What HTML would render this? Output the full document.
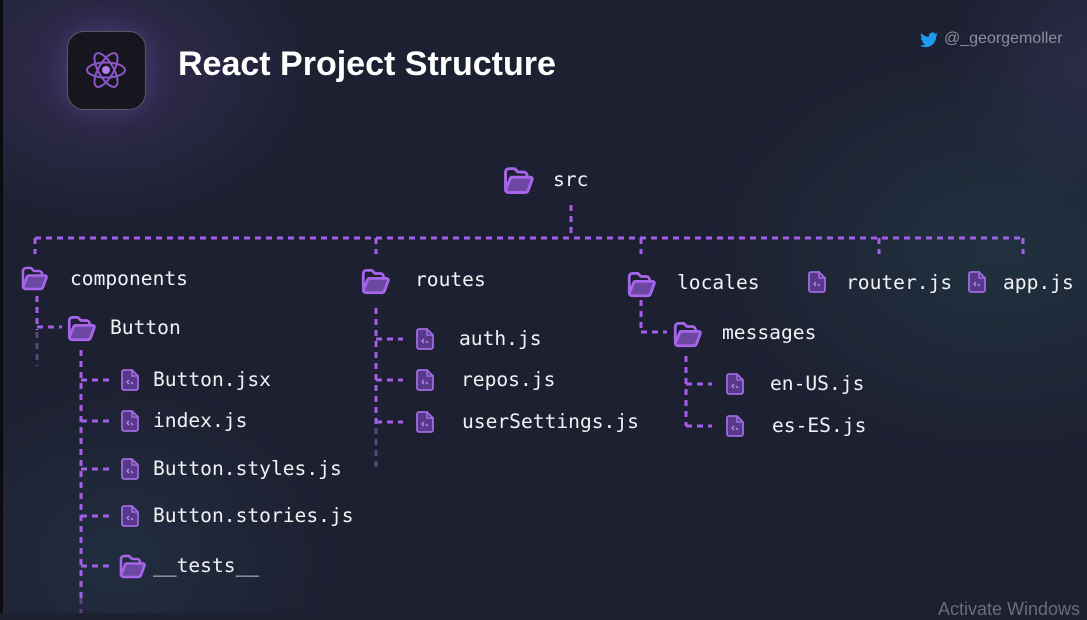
<!DOCTYPE html>
<html><head><meta charset="utf-8"><style>
html,body{margin:0;padding:0}
body{width:1087px;height:613px;overflow:hidden;position:relative;background:#1d2031;font-family:"DejaVu Sans Mono","Liberation Mono",monospace}
.bg{position:absolute;inset:0;background:
radial-gradient(ellipse 300px 220px at 105px 70px,rgba(110,80,170,.28),transparent 70%),
radial-gradient(ellipse 420px 300px at 1000px 250px,rgba(40,80,90,.35),transparent 70%),
radial-gradient(ellipse 300px 260px at 120px 560px,rgba(40,70,90,.35),transparent 70%),
radial-gradient(ellipse 200px 200px at 1087px 60px,rgba(70,60,110,.35),transparent 70%);}
.t{position:absolute;color:#f2f2f5;font-size:19.6px;line-height:24px;white-space:nowrap}
</style></head><body>
<div class="bg"></div>
<div style="position:absolute;left:0;top:0;width:3px;height:613px;background:#0c0c10"></div>
<div style="position:absolute;left:67px;top:31px;width:77px;height:77px;border-radius:17px;background:#17161f;border:1px solid #5a5868;box-shadow:0 0 30px rgba(130,90,200,.35)"></div>
<svg style="position:absolute;left:67px;top:31px" width="78" height="78" viewBox="0 0 78 78">
<g fill="none" stroke="#8a55c8" stroke-width="2">
<ellipse cx="39" cy="39" rx="19" ry="7.5"/>
<ellipse cx="39" cy="39" rx="19" ry="7.5" transform="rotate(60 39 39)"/>
<ellipse cx="39" cy="39" rx="19" ry="7.5" transform="rotate(-60 39 39)"/>
</g><circle cx="39" cy="39" r="4" fill="#b27cf0"/></svg>
<div style="position:absolute;left:178px;top:45px;font:bold 34px 'Liberation Sans',sans-serif;color:#fff">React Project Structure</div>
<svg style="position:absolute;left:920px;top:32px" width="18" height="16" viewBox="0 0 24 20"><path fill="#1d9bf0" d="M24 2.4a9.8 9.8 0 0 1-2.8.8A4.9 4.9 0 0 0 23.3.4a9.9 9.9 0 0 1-3.1 1.2A4.9 4.9 0 0 0 11.8 6 14 14 0 0 1 1.7.9a4.9 4.9 0 0 0 1.5 6.6A4.9 4.9 0 0 1 1 6.900a4.9 4.9 0 0 0 3.9 4.9 4.9 4.9 0 0 1-2.2.1 4.9 4.9 0 0 0 4.6 3.4A9.9 9.9 0 0 1 0 17.3 14 14 0 0 0 7.5 19.5c9.1 0 14-7.5 14-14v-.6A10 10 0 0 0 24 2.4z"/></svg>
<div style="position:absolute;left:944px;top:30px;font:16px 'Liberation Sans',sans-serif;color:#8b90a0">@_georgemoller</div>
<div style="position:absolute;left:938px;top:599px;font:18px 'Liberation Sans',sans-serif;color:#6a6d78">Activate Windows</div>

<svg style="position:absolute;left:0;top:0" width="1087" height="613">
<defs>
<symbol id="fo" viewBox="0 0 30 30">
<path d="M4 23V8a3 3 0 0 1 3-3h5l3 3h5a3 3 0 0 1 3 3v2" fill="none" stroke="#a765ec" stroke-width="2.6" stroke-linejoin="round"/>
<path d="M4 24l4-10a2 2 0 0 1 2-1.5h16a1.6 1.6 0 0 1 1.5 2L24 24a3 3 0 0 1-3 2H7a3 3 0 0 1-3-2z" fill="#6c48a3" stroke="#a765ec" stroke-width="2.6" stroke-linejoin="round"/>
</symbol>
<symbol id="fi" viewBox="0 0 20 24">
<path d="M4 2h8l6 6v12a2 2 0 0 1-2 2H4a2 2 0 0 1-2-2V4a2 2 0 0 1 2-2z" fill="#56398a" stroke="#a06ae0" stroke-width="1.8"/>
<path d="M12 2v6h6" fill="none" stroke="#a06ae0" stroke-width="1.6"/>
<path d="M9 12l-2 2 2 2M11 14l2 2" fill="none" stroke="#b78af0" stroke-width="1.3"/>
</symbol>
</defs>
<g stroke="#a35fe6" stroke-width="3" fill="none" stroke-dasharray="6 5">
<path d="M571 205V238"/>
<path d="M35 238H1023"/>
<path d="M35 238V254M376 238V254M641 238V254M879 238V254M1023 238V254"/>
<path d="M37 296V330M37 327H62"/>
<path d="M81 350V600M81 380H110M81 421H110M81 469H110M81 516H110M81 566H110"/>
<path d="M376 308V425M376 339H403M376 380H403M376 422H403"/>
<path d="M641 300V332M641 332H667"/>
<path d="M686 356V426M686 384H712M686 426H712"/>
</g>
<g stroke="#5a4580" stroke-width="3" stroke-dasharray="6 5">
<path d="M37 332V366M376 428V468M81 598V613"/>
</g>
<use href="#fo" x="501" y="163" width="34" height="34"/>
<use href="#fo" x="19" y="263" width="30" height="30"/>
<use href="#fo" x="65" y="312" width="32" height="32"/>
<use href="#fo" x="117" y="551" width="30" height="30"/>
<use href="#fo" x="359" y="265" width="32" height="32"/>
<use href="#fo" x="625" y="268" width="32" height="32"/>
<use href="#fo" x="671" y="318" width="32" height="32"/>
<use href="#fi" x="120" y="368" width="20" height="24"/>
<use href="#fi" x="120" y="409" width="20" height="24"/>
<use href="#fi" x="120" y="457" width="20" height="24"/>
<use href="#fi" x="120" y="504" width="20" height="24"/>
<use href="#fi" x="415" y="327" width="20" height="24"/>
<use href="#fi" x="415" y="368" width="20" height="24"/>
<use href="#fi" x="415" y="410" width="20" height="24"/>
<use href="#fi" x="725" y="372" width="20" height="24"/>
<use href="#fi" x="725" y="414" width="20" height="24"/>
<use href="#fi" x="807" y="270" width="20" height="24"/>
<use href="#fi" x="967" y="270" width="20" height="24"/>
</svg>

<div class="t" style="left:553px;top:168px">src</div>
<div class="t" style="left:70px;top:267px">components</div>
<div class="t" style="left:110px;top:316px">Button</div>
<div class="t" style="left:153px;top:368px">Button.jsx</div>
<div class="t" style="left:153px;top:409px">index.js</div>
<div class="t" style="left:153px;top:457px">Button.styles.js</div>
<div class="t" style="left:153px;top:504px">Button.stories.js</div>
<div class="t" style="left:153px;top:554px">__tests__</div>
<div class="t" style="left:415px;top:268px">routes</div>
<div class="t" style="left:459px;top:327px">auth.js</div>
<div class="t" style="left:461px;top:368px">repos.js</div>
<div class="t" style="left:462px;top:410px">userSettings.js</div>
<div class="t" style="left:677px;top:271px">locales</div>
<div class="t" style="left:722px;top:321px">messages</div>
<div class="t" style="left:770px;top:372px">en-US.js</div>
<div class="t" style="left:772px;top:414px">es-ES.js</div>
<div class="t" style="left:846px;top:271px">router.js</div>
<div class="t" style="left:1003px;top:271px">app.js</div>
</body></html>
